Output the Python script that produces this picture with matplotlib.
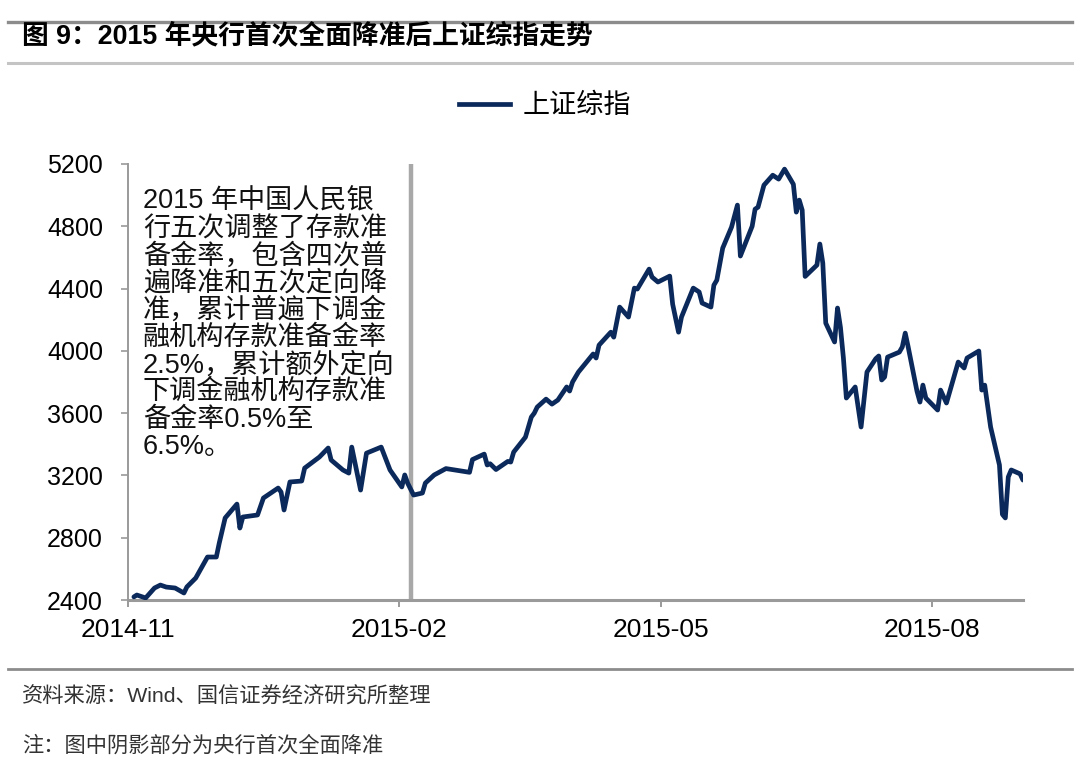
import matplotlib
matplotlib.use("Agg")
import matplotlib.pyplot as plt
from matplotlib.lines import Line2D
import pandas as pd

plt.rcParams['font.family'] = ['Liberation Sans', 'Noto Sans CJK SC', 'DejaVu Sans']

# ---------------- data ----------------
dates = [
    "2014-11-03", "2014-11-04", "2014-11-07", "2014-11-10", "2014-11-12", "2014-11-14",
    "2014-11-17", "2014-11-20", "2014-11-21", "2014-11-24", "2014-11-28", "2014-12-01",
    "2014-12-02", "2014-12-04", "2014-12-08", "2014-12-09", "2014-12-10", "2014-12-15",
    "2014-12-17", "2014-12-22", "2014-12-23", "2014-12-24", "2014-12-26", "2014-12-30",
    "2014-12-31", "2015-01-05", "2015-01-08", "2015-01-09", "2015-01-13", "2015-01-15",
    "2015-01-16", "2015-01-19", "2015-01-21", "2015-01-26", "2015-01-29", "2015-02-02",
    "2015-02-03", "2015-02-04", "2015-02-06", "2015-02-09", "2015-02-10", "2015-02-13",
    "2015-02-17", "2015-02-25", "2015-02-26", "2015-03-02", "2015-03-03", "2015-03-04",
    "2015-03-06", "2015-03-10", "2015-03-11", "2015-03-12", "2015-03-16", "2015-03-18",
    "2015-03-19", "2015-03-20", "2015-03-23", "2015-03-25", "2015-03-27", "2015-03-30",
    "2015-03-31", "2015-04-01", "2015-04-03", "2015-04-08", "2015-04-09", "2015-04-10",
    "2015-04-14", "2015-04-15", "2015-04-17", "2015-04-20", "2015-04-22", "2015-04-23",
    "2015-04-27", "2015-04-28", "2015-04-30", "2015-05-04", "2015-05-05", "2015-05-07",
    "2015-05-08", "2015-05-12", "2015-05-14", "2015-05-15", "2015-05-18", "2015-05-19",
    "2015-05-20", "2015-05-22", "2015-05-25", "2015-05-27", "2015-05-28", "2015-06-01",
    "2015-06-02", "2015-06-03", "2015-06-05", "2015-06-08", "2015-06-10", "2015-06-12",
    "2015-06-15", "2015-06-16", "2015-06-17", "2015-06-18", "2015-06-19", "2015-06-23",
    "2015-06-24", "2015-06-25", "2015-06-26", "2015-06-29", "2015-06-30", "2015-07-01",
    "2015-07-02", "2015-07-03", "2015-07-06", "2015-07-08", "2015-07-10", "2015-07-13",
    "2015-07-14", "2015-07-15", "2015-07-16", "2015-07-17", "2015-07-21", "2015-07-22",
    "2015-07-23", "2015-07-24", "2015-07-27", "2015-07-28", "2015-07-29", "2015-07-30",
    "2015-08-03", "2015-08-04", "2015-08-06", "2015-08-10", "2015-08-12", "2015-08-13",
    "2015-08-17", "2015-08-18", "2015-08-19", "2015-08-21", "2015-08-24", "2015-08-25",
    "2015-08-26", "2015-08-27", "2015-08-28", "2015-08-31", "2015-09-01",
]
sh_index = [
    2420, 2432, 2413, 2477, 2496, 2483,
    2477, 2445, 2484, 2541, 2676, 2676,
    2766, 2927, 3016, 2862, 2933, 2946,
    3055, 3119, 3093, 2978, 3158, 3164,
    3247, 3318, 3376, 3299, 3235, 3215,
    3382, 3106, 3343, 3382, 3235, 3126,
    3203, 3150, 3074, 3087, 3151, 3203,
    3244, 3220, 3302, 3337, 3267, 3275,
    3238, 3290, 3286, 3350, 3446, 3575,
    3600, 3639, 3690, 3658, 3684, 3768,
    3742, 3800, 3864, 3980, 3954, 4037,
    4120, 4088, 4281, 4217, 4403, 4397,
    4525, 4474, 4442, 4480, 4300, 4120,
    4217, 4403, 4378, 4307, 4281, 4422,
    4454, 4660, 4795, 4936, 4609, 4800,
    4910, 4923, 5064, 5128, 5103, 5167,
    5070, 4891, 4968, 4904, 4478, 4551,
    4686, 4564, 4178, 4057, 4275, 4150,
    3954, 3697, 3768, 3511, 3864, 3950,
    3967, 3813, 3832, 3960, 3992, 4025,
    4114, 4025, 3740, 3671, 3780, 3697,
    3620, 3748, 3665, 3928, 3890, 3954,
    3999, 3748, 3780, 3511, 3267, 2950,
    2927, 3190, 3235, 3210, 3170,
]
rrr_cut_date = "2015-02-05"
y_ticks = [2400, 2800, 3200, 3600, 4000, 4400, 4800, 5200]
x_tick_dates = ["2014-11-01", "2015-02-01", "2015-05-01", "2015-08-01"]
x_tick_labels = ["2014-11", "2015-02", "2015-05", "2015-08"]
series_name = "上证综指"
title = "图 9：2015 年央行首次全面降准后上证综指走势"
note_lines = [
    "2015 年中国人民银",
    "行五次调整了存款准",
    "备金率，包含四次普",
    "遍降准和五次定向降",
    "准，累计普遍下调金",
    "融机构存款准备金率",
    "2.5%，累计额外定向",
    "下调金融机构存款准",
    "备金率0.5%至",
    "6.5%。",
]
source = "资料来源：Wind、国信证券经济研究所整理"
footnote = "注：图中阴影部分为央行首次全面降准"

# ---------------- figure ----------------
W, H = 1080, 768
fig = plt.figure(figsize=(W / 100, H / 100), dpi=100)
fig.patch.set_facecolor("white")

def fx(px):
    return px / W

def fy(py):
    return 1 - py / H

ax = fig.add_axes([fx(128), fy(600), fx(1023) - fx(128), fy(164) - fy(600)])

navy = "#0b2a5b"
axis_gray = "#9a9a9a"

x = pd.to_datetime(dates)
ax.plot(x, sh_index, color=navy, lw=3.4, solid_joinstyle="round",
        solid_capstyle="round", label=series_name, zorder=3)
ax.axvline(pd.Timestamp(rrr_cut_date), color="#a8a8a8", lw=3.2, zorder=2)

ax.set_xlim(pd.Timestamp("2014-11-01"), pd.Timestamp("2015-09-01"))
ax.set_ylim(2400, 5200)
ax.set_yticks(y_ticks)
ax.set_yticklabels([str(v) for v in y_ticks])
ax.set_xticks(pd.to_datetime(x_tick_dates))
ax.set_xticklabels(x_tick_labels)

for s in ["top", "right"]:
    ax.spines[s].set_visible(False)
ax.spines["left"].set_color(axis_gray)
ax.spines["left"].set_linewidth(1.4)
ax.spines["bottom"].set_color(axis_gray)
ax.spines["bottom"].set_linewidth(2.2)
ax.tick_params(axis="y", direction="out", length=5, width=1.2, color=axis_gray,
               labelsize=18, pad=13, labelcolor="black")
ax.tick_params(axis="x", direction="out", length=5, width=1.4, color=axis_gray,
               labelsize=19, pad=8, labelcolor="black")

# annotation text, one row per line
for i, t in enumerate(note_lines):
    fig.text(fx(143), fy(202 + i * 27.2), t, fontsize=19.5, va="center", ha="left",
             color="#111111")

# legend
fig.legend(handles=[Line2D([0], [0], color=navy, lw=3.4)], labels=[series_name],
           loc="center", bbox_to_anchor=(fx(545), fy(106)), frameon=False,
           fontsize=19.5, handlelength=1.9, handletextpad=0.45)

# title and separators
fig.add_artist(Line2D([fx(8), fx(1072)], [fy(22), fy(22)], color="#8c8c8c", lw=2.4))
fig.add_artist(Line2D([fx(8), fx(1072)], [fy(63), fy(63)], color="#c4c4c4", lw=2.2))
fig.text(fx(22), fy(37), title, fontsize=19.3, fontweight="bold", va="center", ha="left",
         color="black")
fig.add_artist(Line2D([fx(8), fx(1072)], [fy(669), fy(669)], color="#8c8c8c", lw=2.0))
fig.text(fx(22), fy(697), source, fontsize=15.3, va="center", ha="left", color="#333333")
fig.text(fx(22), fy(745), footnote, fontsize=15.3, va="center", ha="left", color="#333333")

fig.savefig("out.png", dpi=100, facecolor="white")
